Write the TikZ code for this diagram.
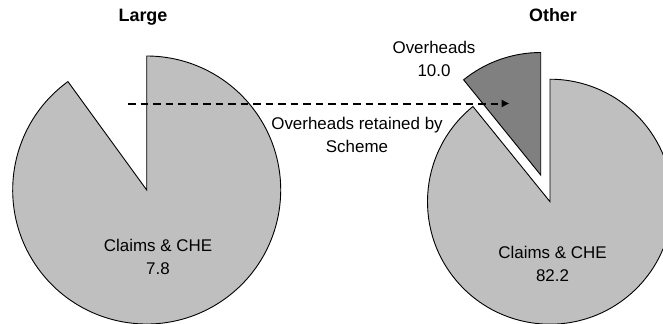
\documentclass[tikz,border=0pt]{standalone}
\usepackage{fontspec}
\setmainfont{Liberation Sans}
\usetikzlibrary{arrows.meta}

\begin{document}
\begin{tikzpicture}[
    x=1bp, y=1bp,
    thin,
    slice/.style={draw=black, line width=0.9bp, line join=miter},
    claims slice/.style={slice, fill=black!25},
    overhead slice/.style={slice, fill=black!50},
    chart title/.style={font=\fontsize{18}{20}\selectfont\bfseries},
    pie label/.style={align=center, font=\fontsize{17}{23}\selectfont},
    transfer/.style={-{Triangle[length=7.5bp,width=7bp]}, line width=2bp, dash pattern=on 7.5bp off 5bp}]

  \useasboundingbox (0,0) rectangle (663,323);

  % Large
  \coordinate (LargeCentre) at (146.7,133);
  \path[claims slice] (LargeCentre) -- ++(126:134) arc (126:450:134) -- cycle;
  \node[chart title] (LargeTitle) at (143,306) {Large};
  \node[pie label] (LargeClaims) at (158,66) {Claims \& CHE\\7.8};

  % Other
  \coordinate (OtherCentre) at (550,121.3);
  \coordinate (OverheadCentre) at (540.7,148);
  \path[claims slice] (OtherCentre) -- ++(129:122.5) arc (129:450:122.5) -- cycle;
  \path[overhead slice] (OverheadCentre) -- ++(90:122.5) arc (90:129:122.5) -- cycle;
  \node[chart title] (OtherTitle) at (553,308) {Other};
  \node[pie label] (OtherClaims) at (552.5,59) {Claims \& CHE\\82.2};
  \node[pie label] (OtherOverheads) at (434,264.5) {Overheads\\10.0};

  % overheads moved across
  \coordinate (TransferStart) at (128,219.5);
  \coordinate (TransferEnd) at (509,219.5);
  \draw[transfer] (TransferStart) -- (TransferEnd);
  \node[pie label] (TransferLabel) at (357,188) {Overheads retained by\\Scheme};

\end{tikzpicture}
\end{document}
